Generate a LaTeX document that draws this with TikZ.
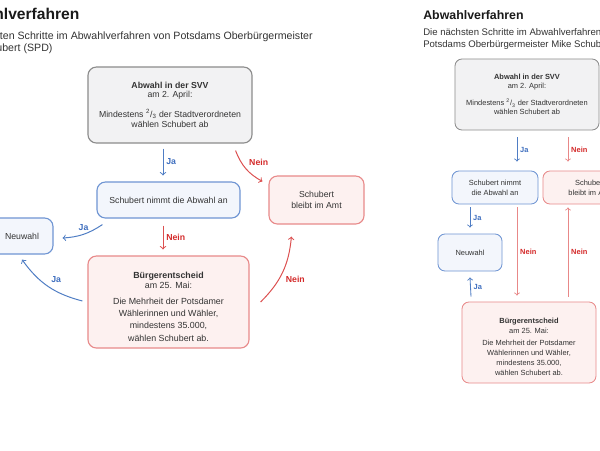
\documentclass[tikz,border=0pt]{standalone}
\usepackage{fontspec}
\setmainfont{Liberation Sans}
\usetikzlibrary{calc,arrows}

\definecolor{textgrau}{HTML}{333333}
\definecolor{titelschwarz}{HTML}{1A1A1A}
\definecolor{randgrau}{HTML}{8C8C8C}
\definecolor{fuellgrau}{HTML}{F2F2F3}
\definecolor{randblau}{HTML}{6F95D3}
\definecolor{fuellblau}{HTML}{F3F6FC}
\definecolor{randrot}{HTML}{E88A8A}
\definecolor{fuellrot}{HTML}{FDF1F0}
\definecolor{pfeilblau}{HTML}{4F7DC4}
\definecolor{pfeilrot}{HTML}{DC5050}
\definecolor{pfeilrothell}{HTML}{E88888}
\definecolor{jablau}{HTML}{3F6FBF}
\definecolor{neinrot}{HTML}{D42A2A}

\newcommand{\gross}{\fontsize{6.2}{7.1}\selectfont}
\newcommand{\klein}{\fontsize{5.3}{7.1}\selectfont}

\tikzset{
  kasten/.style={draw,rounded corners=6pt,line width=0.8pt,align=center,text=textgrau,inner sep=0pt},
  grau/.style={kasten,draw=randgrau,fill=fuellgrau},
  blau/.style={kasten,draw=randblau,fill=fuellblau},
  rot/.style={kasten,draw=randrot,fill=fuellrot},
  japfeil/.style={->,>=to,draw=pfeilblau,line width=0.7pt},
  neinpfeil/.style={->,>=to,draw=pfeilrot,line width=0.7pt},
  kneinpfeil/.style={->,>=to,draw=pfeilrothell,line width=0.7pt},
  ja/.style={text=jablau,font=\bfseries\gross,inner sep=2pt},
  nein/.style={text=neinrot,font=\bfseries\gross,inner sep=2pt},
  kja/.style={text=jablau,font=\bfseries\klein,inner sep=2pt},
  knein/.style={text=neinrot,font=\bfseries\klein,inner sep=2pt},
  kopf/.style={inner sep=0pt,text=textgrau}
}

\begin{document}
\begin{tikzpicture}[x=0.025cm,y=-0.025cm]
 \clip (0,0) rectangle (600,450);
 \fill[white] (0,0) rectangle (600,450);

 % linke Fassung
 \node[kopf,anchor=base east,font=\fontsize{7.55}{9}\selectfont] (unter1) at (313,39.5) {Die nächsten Schritte im Abwahlverfahren von Potsdams Oberbürgermeister};
 \node[kopf,anchor=base west,font=\fontsize{7.55}{9}\selectfont] (unter2) at ($(unter1.base west)+(0,12)$) {Mike Schubert (SPD)};
 \node[kopf,anchor=base west,text=titelschwarz,font=\bfseries\fontsize{11.1}{13}\selectfont] (titel) at ($(unter1.base west)+(0,-20.5)$) {Abwahlverfahren};

 \node[grau,minimum width=4.1cm,minimum height=1.9cm,font=\gross] (svv) at (170,105)
  {{\bfseries Abwahl in der SVV}\\[-1.2pt]am 2. April:\\[7.1pt]Mindestens \textsuperscript{2}/\textsubscript{3} der Stadtverordneten\\wählen Schubert ab};
 \node[blau,minimum width=3.575cm,minimum height=0.9cm,font=\gross] (annahme) at (168.5,200) {Schubert nimmt die Abwahl an};
 \node[blau,minimum width=1.55cm,minimum height=0.9cm,font=\gross] (neuwahl) at (22,236) {Neuwahl};
 \node[rot,minimum width=4.025cm,minimum height=2.3cm,font=\fontsize{6.3}{8.7}\selectfont] (entscheid) at (168.5,302)
  {\rule{0pt}{11pt}{\bfseries Bürgerentscheid}\\[-1.6pt]am 25. Mai:\\[2.7pt]Die Mehrheit der Potsdamer\\Wählerinnen und Wähler,\\mindestens 35.000,\\wählen Schubert ab.};
 \node[rot,minimum width=2.375cm,minimum height=1.2cm,font=\fontsize{6.2}{7.8}\selectfont] (amt) at (316.5,200) {Schubert\\bleibt im Amt};

 \draw[japfeil] ($(svv.south)+(-7,5)$) -- ($(annahme.north)+(-5.5,-6)$) node[ja,midway,right] (ja1) {Ja};
 \draw[neinpfeil] ($(annahme.south)+(-5.5,7)$) -- ($(entscheid.north)+(-5.5,-6)$) node[nein,midway,right] (nein1) {Nein};
 \draw[japfeil] ($(annahme.south west)+(6,6)$) to[bend left=15] node[ja,midway,above] (ja2) {Ja} ($(neuwahl.east)+(9,2)$);
 \draw[japfeil] ($(entscheid.west)+(-5,-1)$) to[bend left=20] node[ja,midway,above right] (ja3) {Ja} ($(neuwahl.south)+(0,5)$);
 \draw[neinpfeil] ($(svv.south east)+(-17,7)$) to[bend right=20] node[nein,midway,above right] (nein2) {Nein} ($(amt.north west)+(-6,6)$);
 \draw[neinpfeil] ($(entscheid.east)+(11,0)$) to[bend right=20] node[nein,midway,below right] (nein3) {Nein} ($(amt.south west)+(23,12)$);

 % rechte Fassung
 \node[kopf,anchor=base west,text=titelschwarz,font=\bfseries\fontsize{8.8}{10}\selectfont] (ktitel) at (423,19) {Abwahlverfahren};
 \node[kopf,anchor=base west,font=\fontsize{6.8}{8}\selectfont] (kunter1) at (423,35) {Die nächsten Schritte im Abwahlverfahren von};
 \node[kopf,anchor=base west,font=\fontsize{6.8}{8}\selectfont] (kunter2) at (423,47) {Potsdams Oberbürgermeister Mike Schubert (SPD)};

 \node[grau,rounded corners=5pt,line width=0.6pt,minimum width=3.6cm,minimum height=1.775cm,font=\fontsize{5.3}{6.4}\selectfont] (ksvv) at (527,94.5)
  {{\bfseries Abwahl in der SVV}\\am 2. April:\\[5.7pt]Mindestens \textsuperscript{2}/\textsubscript{3} der Stadtverordneten\\wählen Schubert ab};
 \node[blau,rounded corners=5pt,line width=0.6pt,minimum width=2.15cm,minimum height=0.825cm,font=\klein] (kannahme) at (495,187.5) {Schubert nimmt\\die Abwahl an};
 \node[rot,rounded corners=5pt,line width=0.6pt,minimum width=2.35cm,minimum height=0.825cm,font=\klein] (kamt) at (590,187.5) {Schubert\\bleibt im Amt};
 \node[blau,rounded corners=5pt,line width=0.6pt,minimum width=1.6cm,minimum height=0.925cm,font=\klein] (kneuwahl) at (470,252.5) {Neuwahl};
 \node[rot,rounded corners=5pt,line width=0.6pt,minimum width=3.35cm,minimum height=2.025cm,font=\klein] (kentscheid) at (529,342.5)
  {\rule{0pt}{10pt}{\bfseries Bürgerentscheid}\\am 25. Mai:\\[1.4pt]Die Mehrheit der Potsdamer\\Wählerinnen und Wähler,\\mindestens 35.000,\\wählen Schubert ab.};

 \draw[japfeil,line width=0.6pt] ($(ksvv.south)+(-10,7)$) -- ($(kannahme.north)+(22,-9)$) node[kja,midway,right] (kja1) {Ja};
 \draw[kneinpfeil,line width=0.6pt] ($(ksvv.south)+(41,7)$) -- ($(kamt.north)+(-22,-9)$) node[knein,midway,right] (knein1) {Nein};
 \draw[japfeil,line width=0.6pt] ($(kannahme.south)+(-25,3)$) -- ($(kneuwahl.north)+(0,-6)$) node[kja,midway,right] (kja2) {Ja};
 \draw[kneinpfeil,line width=0.6pt] ($(kannahme.south)+(22,3)$) -- ($(kentscheid.north)+(-12,-6)$) node[knein,midway,right] (knein2) {Nein};
 \draw[kneinpfeil,line width=0.6pt] ($(kentscheid.north)+(39,-5)$) -- ($(kamt.south)+(-22,3)$) node[knein,midway,right] (knein3) {Nein};
 \draw[japfeil,line width=0.6pt] ($(kentscheid.north)+(-58,-5)$) -- ($(kneuwahl.south)+(0,6)$) node[kja,midway,right] (kja3) {Ja};
\end{tikzpicture}
\end{document}
